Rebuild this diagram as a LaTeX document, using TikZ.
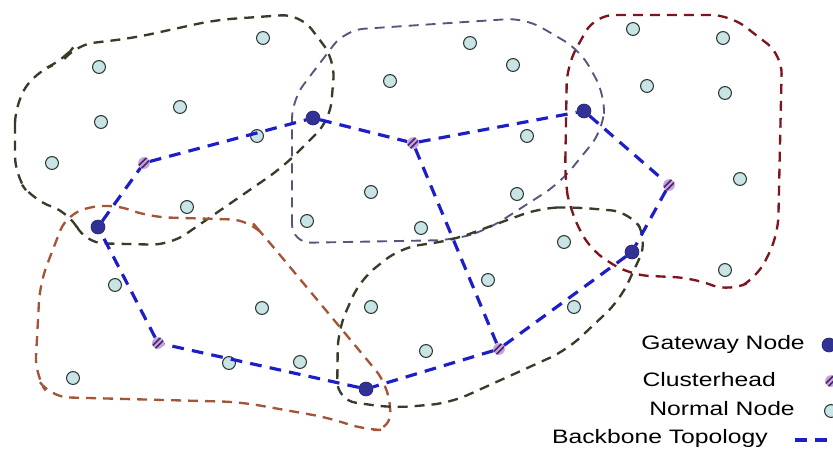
\documentclass[tikz,border=0pt]{standalone}
\usepackage{fontspec}
\setmainfont{Liberation Sans}
\usepackage{graphicx}
\usetikzlibrary{positioning}

\definecolor{gwblue}{RGB}{50,50,150}
\definecolor{nnfill}{RGB}{200,228,228}
\definecolor{nnline}{RGB}{40,50,50}
\definecolor{chfill}{RGB}{195,165,220}
\definecolor{chline}{RGB}{75,35,105}
\definecolor{bbblue}{RGB}{30,30,200}
\definecolor{olive}{RGB}{55,60,40}
\definecolor{slate}{RGB}{85,85,125}
\definecolor{wine}{RGB}{125,20,30}
\definecolor{rust}{RGB}{165,85,55}

\newcommand{\legtext}[1]{\scalebox{1.27}[1]{#1}}

\tikzset{
  gateway/.style={circle, fill=gwblue, draw=gwblue!70!black, line width=0.5pt, inner sep=0pt, minimum size=12pt},
  normal/.style={circle, fill=nnfill, draw=nnline, line width=0.9pt, inner sep=0pt, minimum size=11pt},
  clusterhead/.style={circle, fill=chfill, inner sep=0pt, minimum size=10pt,
    path picture={
      \draw[chline, line width=1.4pt] ([shift={(-6pt,-3.6pt)}]path picture bounding box.center) -- ++(9pt,9pt);
      \draw[chline, line width=1.4pt] ([shift={(-3.6pt,-6pt)}]path picture bounding box.center) -- ++(9pt,9pt);
    }},
  backbone/.style={bbblue, line width=2.7pt, dash pattern=on 10pt off 7pt},
  cluster/.style={line width=2pt, dash pattern=on 8.5pt off 6pt, rounded corners=16},
  legend/.style={font=\fontsize{16.6pt}{20pt}\selectfont, inner sep=0pt}
}

\begin{document}
\begin{tikzpicture}[x=0.03cm, y=-0.03cm]
  \useasboundingbox (0,0) rectangle (833,464);

  % clusters
  \draw[cluster, olive] (15,105) -- (15,175) -- (33,200) -- (70,213) -- (85,243) -- (170,245)
    -- (283,167) -- (330,120) -- (335,60) -- (300,14) -- (215,20) -- (133,38) -- (75,45)
    -- (62,62) -- (35,72) -- cycle;
  \draw[cluster, slate, line width=1.6pt] (292,243) -- (292,100) -- (345,30) -- (525,18) -- (580,50)
    -- (605,95) -- (603,130) -- (560,183) -- (487,230) -- (453,240) -- cycle;
  \draw[cluster, wine] (565,180) -- (567,65) -- (595,15) -- (730,15) -- (782,55) -- (778,235)
    -- (757,278) -- (730,292) -- (693,278) -- (630,275) -- (590,250) -- (570,210) -- cycle;
  \draw[cluster, rust] (67,213) -- (110,203) -- (150,217) -- (250,220) -- (265,237) -- (388,385)
    -- (392,430) -- (365,430) -- (330,418) -- (240,402) -- (50,397) -- (35,375) -- (40,283) -- cycle;
  \draw[cluster, olive] (648,240) -- (630,212) -- (573,207) -- (540,208) -- (453,240) -- (400,248)
    -- (360,280) -- (338,330) -- (337,400) -- (393,408) -- (450,403) -- (567,350) -- (620,300) -- cycle;

  % normal nodes
  \foreach \x/\y [count=\i] in {263/38, 99/67, 180/107, 101/122, 52/163, 257/136, 390/81,
      371/192, 187/207, 307/221, 421/228, 470/43, 513/65, 633/29, 723/38, 647/86, 725/93,
      527/136, 517/194, 740/179, 564/242, 725/270, 488/280, 115/285, 262/308, 371/307,
      229/363, 300/362, 73/378, 574/307, 426/351}
    \node(n\i) [normal] at (\x,\y) {};

  % gateways and clusterheads
  \node(g1) [gateway] at (98,227) {};
  \node(g2) [gateway] at (313,118) {};
  \node(g3) [gateway] at (584,111) {};
  \node(g4) [gateway] at (632,252) {};
  \node(g5) [gateway] at (366,389) {};
  \node(h1) [clusterhead] at (144,163) {};
  \node(h2) [clusterhead] at (413,143) {};
  \node(h3) [clusterhead] at (669,185) {};
  \node(h4) [clusterhead] at (158,343) {};
  \node(h5) [clusterhead] at (499,349) {};

  % backbone
  \draw[backbone] (g1) -- (h1) -- (g2) -- (h2) -- (g3) -- (h3) -- (g4) -- (h5) -- (g5) -- (h4) -- (g1);
  \draw[backbone] (h2) -- (h5);

  % legend
  \node(lgw) [legend, anchor=base east] at (805,349) {\legtext{Gateway Node}};
  \node(lch) [legend, anchor=base east] at (776,386) {\legtext{Clusterhead}};
  \node(lnn) [legend, anchor=base east] at (795,415) {\legtext{Normal Node}};
  \node(lbb) [legend, anchor=base east] at (768,443) {\legtext{Backbone Topology}};
  \node(kgw) [gateway] at (829,345) {};
  \node(kch) [clusterhead] at (831,381) {};
  \node(knn) [normal] at (831,411) {};
  \coordinate(kb1) at (795,440);
  \coordinate(kb2) at (845,440);
  \draw[backbone] (kb1) -- (kb2);
\end{tikzpicture}
\end{document}
